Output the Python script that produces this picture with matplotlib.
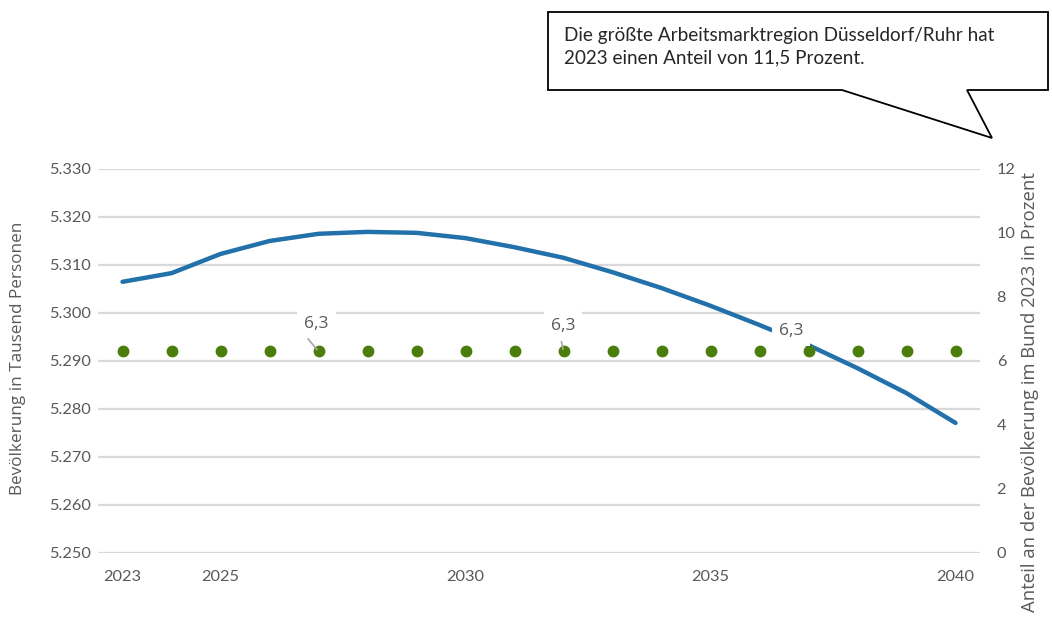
import matplotlib
matplotlib.use("Agg")
import matplotlib.pyplot as plt
from matplotlib.patches import Polygon

years = list(range(2023, 2041))
population = [5306.5, 5308.3, 5312.3, 5315.0, 5316.5, 5316.9, 5316.7, 5315.6,
              5313.7, 5311.5, 5308.5, 5305.2, 5301.5, 5297.5, 5293.3, 5288.5,
              5283.3, 5277.1]
share = [6.3] * len(years)
xtick_years = [2023, 2025, 2030, 2035, 2040]
left_ticks = [5250, 5260, 5270, 5280, 5290, 5300, 5310, 5320, 5330]
right_ticks = [0, 2, 4, 6, 8, 10, 12]
label_years = [2027, 2032, 2037]
callout_text = "Die größte Arbeitsmarktregion Düsseldorf/Ruhr hat\n2023 einen Anteil von 11,5 Prozent."

W, H = 1052, 619
fig = plt.figure(figsize=(W / 100, H / 100), dpi=100)
fig.patch.set_facecolor("white")

def fx(px):
    return px / W

def fy(py):
    return 1 - py / H

ax1 = fig.add_axes([fx(98), fy(553), fx(980) - fx(98), fy(169) - fy(553)])
ax2 = ax1.twinx()

tick_color = "#595959"
grid_color = "#d9d9d9"
tick_font = "Lato"

ax1.set_xlim(2022.5, 2040.5)
ax1.set_ylim(5250, 5330)
ax1.set_yticks(left_ticks)
ax1.set_yticklabels([f"{v/1000:.3f}" for v in left_ticks])
ax1.set_xticks(xtick_years)
ax1.set_xticklabels([str(y) for y in xtick_years])
ax1.grid(axis="y", color=grid_color, linewidth=1.6, zorder=0)
ax1.set_axisbelow(True)
for s in ax1.spines.values():
    s.set_visible(False)
for s in ax2.spines.values():
    s.set_visible(False)
ax1.tick_params(axis="y", length=0, pad=5, labelsize=11.8, labelcolor=tick_color)
ax1.tick_params(axis="x", length=0, pad=12, labelsize=11.8, labelcolor=tick_color)
for lab in ax1.get_xticklabels() + ax1.get_yticklabels():
    lab.set_fontfamily(tick_font)

ax1.plot(years, population, color="#2271ab", linewidth=3.2,
         solid_capstyle="round", solid_joinstyle="round", zorder=3)

ax2.set_ylim(0, 12)
ax2.set_yticks(right_ticks)
ax2.set_yticklabels([str(v) for v in right_ticks])
ax2.tick_params(axis="y", length=0, pad=12, labelsize=11.8, labelcolor=tick_color)
for lab in ax2.get_yticklabels():
    lab.set_fontfamily(tick_font)

ax2.plot(years, share, linestyle="none", marker="o", markersize=7.5,
         color="#4a7d0a", zorder=2)

# label text offsets (points) and leader start offsets (points)
text_off = {2027: (-1.5, 19.5), 2032: (-0.5, 18.0), 2037: (-12.5, 14.5)}
lead_off = {2027: (-7.5, 9.0), 2032: (-1.5, 7.0), 2037: None}
for y in label_years:
    i = years.index(y)
    ax2.annotate(f"{share[i]:.1f}".replace(".", ","), xy=(y, share[i]),
                 xytext=text_off[y], textcoords="offset points",
                 ha="center", va="center",
                 fontsize=12.5, color=tick_color, fontfamily="Open Sans",
                 bbox=dict(boxstyle="square,pad=0.4", facecolor="white",
                           edgecolor="none"),
                 zorder=5)
    if lead_off[y] is not None:
        ax2.annotate("", xy=(y, share[i]), xytext=lead_off[y],
                     textcoords="offset points",
                     arrowprops=dict(arrowstyle="-", color="#a6a6a6", lw=1.2,
                                     shrinkA=0, shrinkB=1.5),
                     zorder=6)

fig.text(fx(18), fy(358), "Bevölkerung in Tausend Personen", rotation=90,
         ha="center", va="center", fontsize=12.3, color=tick_color,
         fontfamily="Open Sans")
fig.text(fx(1030), fy(392), "Anteil an der Bevölkerung im Bund 2023 in Prozent",
         rotation=90, ha="center", va="center", fontsize=13.3, color=tick_color,
         fontfamily="Open Sans")

pts = [(548, 12), (1048, 12), (1048, 90), (967, 90), (992, 138), (842, 90), (548, 90)]
poly = Polygon([(fx(x), fy(y)) for x, y in pts], closed=True,
               transform=fig.transFigure, facecolor="white", edgecolor="black",
               linewidth=1.3, zorder=10)
fig.add_artist(poly)
fig.text(fx(564), fy(47), callout_text, ha="left", va="center",
         fontsize=13.6, color="#262626", fontfamily="Lato", linespacing=1.4,
         zorder=11)

fig.savefig("out.png", dpi=100, facecolor="white")
